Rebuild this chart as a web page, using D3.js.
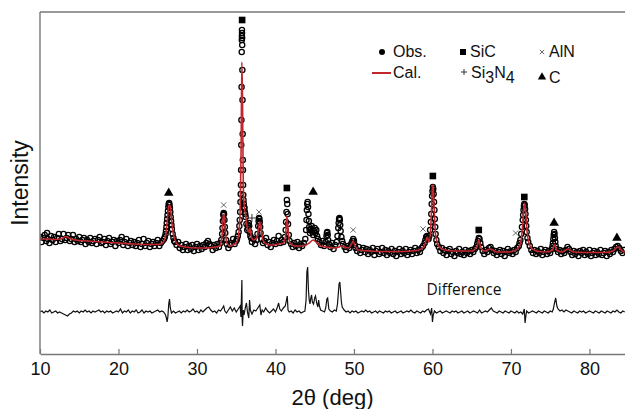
<!DOCTYPE html>
<html>
<head>
<meta charset="utf-8">
<script src="https://cdn.jsdelivr.net/npm/d3@7"></script>
<style>
  body { margin: 0; background: #fff; }
  svg { display: block; font-family: "Liberation Sans", Arial, sans-serif; }
</style>
</head>
<body>
<div id="chart"></div>
<script>
// observed pattern: [2theta (deg), intensity (a.u.)]
const observed = [
  [10.0,117],[10.2,112],[10.4,116],[10.6,119],[10.8,113],[10.9,121],[11.0,115],[11.2,111],[11.4,118],[11.6,114],[11.8,117],
  [12.0,112],[12.2,116],[12.4,120],[12.6,113],[12.8,115],[13.0,120],[13.2,114],[13.4,116],[13.6,119],[13.8,113],
  [14.0,115],[14.2,119],[14.4,112],[14.6,115],[14.8,113],[15.0,117],[15.2,112],[15.4,114],[15.6,116],[15.8,110],
  [16.0,114],[16.2,112],[16.4,116],[16.6,111],[16.8,113],[17.0,115],[17.2,110],[17.4,114],[17.6,117],[17.8,111],
  [18.0,112],[18.2,115],[18.4,109],[18.6,113],[18.8,116],[19.0,110],[19.2,112],[19.4,114],[19.6,108],[19.8,113],
  [20.0,111],[20.2,114],[20.4,117],[20.6,109],[20.8,112],[21.0,115],[21.2,108],[21.4,111],[21.6,113],[21.8,109],
  [22.0,112],[22.2,108],[22.4,111],[22.6,114],[22.8,107],[23.0,110],[23.2,115],[23.4,108],[23.6,111],[23.8,113],
  [24.0,107],[24.2,110],[24.4,112],[24.6,108],[24.8,111],[25.0,114],[25.2,108],[25.4,111],[25.6,113],[25.8,115],
  [25.9,117],[26.0,120],[26.05,123],[26.1,127],[26.15,131],[26.2,135],[26.25,139],[26.3,143],[26.35,147],[26.4,150],
  [26.45,151],[26.5,149],[26.55,146],[26.6,142],[26.65,137],[26.7,133],[26.75,129],[26.8,125],[26.9,120],[27.0,116],
  [27.1,113],[27.2,112],[27.4,109],[27.6,112],[27.8,106],[28.0,109],[28.2,104],[28.4,107],[28.6,110],[28.8,104],
  [29.0,108],[29.2,105],[29.4,109],[29.6,103],[29.8,107],[30.0,110],[30.2,104],[30.4,108],[30.6,105],[30.8,109],
  [31.0,107],[31.2,111],[31.4,113],[31.6,110],[31.8,108],[32.0,104],[32.2,109],[32.4,106],[32.6,110],[32.8,107],
  [33.0,111],[33.1,114],[33.2,120],[33.25,126],[33.3,133],[33.35,139],[33.4,141],[33.45,140],[33.5,134],[33.55,127],
  [33.6,121],[33.7,114],[33.8,110],[34.0,106],[34.2,109],[34.4,111],[34.6,115],[34.8,110],[35.0,113],[35.1,115],
  [35.2,118],[35.3,122],[35.4,128],[35.45,134],[35.5,142],[35.54,152],[35.57,160],[35.6,169],[35.62,184],[35.64,209],
  [35.66,234],[35.68,267],[35.7,302],[35.71,314],[35.72,318],[35.73,324],[35.74,321],[35.75,316],[35.76,309],[35.78,284],
  [35.8,254],[35.82,220],[35.84,194],[35.86,184],[35.88,169],[35.9,159],[35.93,154],[35.96,150],[36.0,147],[36.05,146],
  [36.1,142],[36.15,140],[36.2,137],[36.3,130],[36.4,124],[36.5,126],[36.55,129],[36.6,131],[36.65,128],[36.7,122],
  [36.8,118],[36.9,116],[37.0,112],[37.2,115],[37.4,110],[37.6,114],[37.7,120],[37.8,128],[37.85,133],[37.9,136],
  [37.95,135],[38.0,132],[38.05,127],[38.1,121],[38.2,115],[38.4,111],[38.6,113],[38.8,116],[39.0,109],[39.2,112],
  [39.4,107],[39.6,111],[39.8,114],[40.0,110],[40.2,113],[40.4,118],[40.6,111],[40.8,114],[41.0,112],[41.2,117],
  [41.3,124],[41.35,132],[41.4,142],[41.45,154],[41.5,150],[41.55,140],[41.6,130],[41.7,119],[41.8,113],[42.0,110],
  [42.2,107],[42.4,111],[42.6,108],[42.8,112],[43.0,106],[43.2,110],[43.4,108],[43.6,111],[43.8,115],[43.9,124],
  [43.95,134],[44.0,144],[44.05,150],[44.1,152],[44.15,147],[44.2,140],[44.25,133],[44.3,127],[44.35,124],[44.4,121],
  [44.5,125],[44.6,128],[44.7,122],[44.8,119],[44.9,123],[45.0,126],[45.1,121],[45.2,124],[45.3,118],[45.4,115],
  [45.6,112],[45.8,109],[46.0,113],[46.2,108],[46.4,112],[46.5,118],[46.55,121],[46.6,122],[46.65,119],[46.7,114],
  [46.8,110],[47.0,107],[47.2,111],[47.4,105],[47.6,109],[47.8,112],[47.9,118],[48.0,126],[48.05,131],[48.1,135],
  [48.15,136],[48.2,134],[48.25,129],[48.3,123],[48.4,117],[48.5,113],[48.6,110],[48.8,107],[49.0,104],[49.2,108],
  [49.4,106],[49.6,109],[49.7,111],[49.8,113],[49.9,115],[50.0,113],[50.1,109],[50.2,106],[50.4,103],[50.6,107],
  [50.8,101],[51.0,104],[51.2,106],[51.4,102],[51.6,105],[51.8,100],[52.0,104],[52.2,102],[52.4,106],[52.6,99],
  [52.8,103],[53.0,105],[53.2,100],[53.4,102],[53.6,106],[53.8,101],[54.0,104],[54.2,99],[54.4,103],[54.6,101],
  [54.8,105],[55.0,100],[55.2,103],[55.4,98],[55.6,102],[55.8,105],[56.0,100],[56.2,103],[56.4,101],[56.6,105],
  [56.8,99],[57.0,102],[57.2,104],[57.4,100],[57.6,103],[57.8,106],[58.0,101],[58.2,104],[58.4,102],[58.6,106],
  [58.8,108],[59.0,111],[59.1,114],[59.2,117],[59.3,118],[59.4,116],[59.5,115],[59.6,118],[59.7,124],[59.8,132],
  [59.85,140],[59.9,150],[59.95,158],[60.0,163],[60.05,167],[60.1,165],[60.15,160],[60.2,152],[60.25,144],[60.3,135],
  [60.35,127],[60.4,120],[60.5,114],[60.6,110],[60.8,107],[61.0,103],[61.2,106],[61.4,101],[61.6,104],[61.8,99],
  [62.0,103],[62.2,105],[62.4,100],[62.6,102],[62.8,98],[63.0,103],[63.2,101],[63.4,105],[63.6,100],[63.8,102],
  [64.0,99],[64.2,104],[64.4,101],[64.6,103],[64.8,100],[65.0,104],[65.2,102],[65.4,105],[65.6,107],[65.7,110],
  [65.8,113],[65.9,116],[66.0,115],[66.1,111],[66.2,107],[66.4,103],[66.6,100],[66.8,104],[67.0,102],[67.2,106],
  [67.4,107],[67.6,104],[67.8,101],[68.0,103],[68.2,99],[68.4,102],[68.6,104],[68.8,100],[69.0,103],[69.2,98],
  [69.4,102],[69.6,105],[69.8,101],[70.0,103],[70.2,100],[70.4,104],[70.6,102],[70.8,106],[71.0,108],[71.1,111],
  [71.2,114],[71.3,120],[71.4,127],[71.5,134],[71.55,139],[71.6,144],[71.65,148],[71.7,150],[71.75,149],[71.8,145],
  [71.85,140],[71.9,134],[71.95,128],[72.0,122],[72.1,116],[72.2,112],[72.4,108],[72.6,104],[72.8,101],[73.0,104],
  [73.2,100],[73.4,103],[73.6,101],[73.8,105],[74.0,99],[74.2,102],[74.4,104],[74.6,100],[74.8,103],[75.0,101],
  [75.2,105],[75.3,108],[75.35,111],[75.4,115],[75.45,119],[75.5,122],[75.55,120],[75.6,116],[75.65,112],[75.7,108],
  [75.8,105],[76.0,102],[76.2,104],[76.4,100],[76.6,103],[76.8,101],[77.0,104],[77.2,107],[77.4,105],[77.6,102],
  [77.8,99],[78.0,103],[78.2,100],[78.4,102],[78.6,98],[78.8,103],[79.0,101],[79.2,104],[79.4,99],[79.6,102],
  [79.8,100],[80.0,104],[80.2,98],[80.4,101],[80.6,103],[80.8,99],[81.0,102],[81.2,100],[81.4,104],[81.6,99],
  [81.8,101],[82.0,103],[82.2,98],[82.4,102],[82.6,100],[82.8,104],[83.0,102],[83.2,105],[83.4,107],[83.6,108],
  [83.8,106],[84.0,103],[84.2,101],[84.4,104]
];

// calculated (refined) profile
const calculated = [
  [10,115],[11,115],[12,114.5],[12.8,115.5],[13.3,117.5],[13.8,115.5],[14.5,114],[16,113],[18,112],[20,111],
  [22,110],[24,109.5],[25,109.5],[25.6,111],[26.0,118],[26.2,132],[26.4,148],[26.55,149],[26.7,140],[26.9,124],
  [27.2,114],[27.6,109],[28.5,107],[30,106],[31,106],[32,106.5],[32.9,108],[33.2,119],[33.35,138],[33.45,140],
  [33.6,124],[33.8,111],[34.2,108],[34.6,109],[35.0,111],[35.3,119],[35.5,144],[35.62,204],[35.72,292],[35.8,254],
  [35.9,169],[36.05,146],[36.2,139],[36.45,124],[36.6,122],[36.75,126],[36.9,118],[37.2,114],[37.6,116],[37.85,126],
  [38.0,132],[38.15,126],[38.4,114],[38.8,110],[39.5,109],[40.5,110],[41.0,111],[41.3,119],[41.45,138],[41.6,124],
  [41.85,111],[42.5,108],[43.3,108],[43.9,109],[44.3,111],[44.8,114],[45.3,111],[45.8,108],[46.5,107],[47.5,106],
  [48.1,107],[48.3,108],[49.3,106],[49.7,110],[49.9,113],[50.1,109],[50.6,104],[52,103],[54,102.5],[56,102.5],
  [58,103.5],[58.9,107],[59.2,114],[59.35,117],[59.55,112],[59.8,129],[60.0,166],[60.08,169],[60.2,149],[60.4,119],
  [60.8,108],[61.5,104],[63,103],[65,103],[65.7,108],[65.9,114],[66.1,108],[66.6,103],[67.4,105],[68.2,102],
  [69.5,102],[70.3,103],[70.8,105],[71.2,110],[71.5,129],[71.7,151],[71.85,144],[72.1,119],[72.5,107],[73.2,103],
  [74.5,102],[75.3,104],[75.55,110],[75.8,104],[76.5,102],[77.3,105],[78,102],[80,101.5],[82,101.5],[83,103],
  [83.6,107],[84.2,103],[84.53,102]
];

// observed minus calculated
const difference = [
  [10.0,0],[10.25,1],[10.5,-1],[10.75,1],[11.0,0],[11.25,2],[11.5,-1],[11.75,0],[12.0,1],[12.25,-1],[12.5,0],[12.75,-1],
  [13.0,-2],[13.25,-3],[13.5,-4],[13.75,-2],[14.0,-1],[14.25,1],[14.5,0],[14.75,1],[15.0,-1],[15.25,1],[15.5,0],[15.75,2],
  [16.0,0],[16.25,1],[16.5,-1],[16.75,1],[17.0,0],[17.25,1],[17.5,2],[17.75,0],[18.0,1],[18.25,-1],[18.5,1],[18.75,0],
  [19.0,1],[19.25,-1],[19.5,0],[19.75,1],[20.0,0],[20.25,3],[20.5,-1],[20.75,1],[21.0,0],[21.25,2],[21.5,-1],[21.75,1],
  [22.0,0],[22.25,2],[22.5,-1],[22.75,0],[23.0,2],[23.25,-1],[23.5,1],[23.75,0],[24.0,1],[24.25,-1],[24.5,0],[24.75,1],
  [25.0,2],[25.25,0],[25.5,1],[25.75,0],[26.0,-3],[26.1,-6],[26.2,-10],[26.3,-4],[26.4,8],[26.5,13],[26.6,4],[26.75,-1],
  [27.0,1],[27.25,-1],[27.5,0],[27.75,1],[28.0,-1],[28.25,1],[28.5,0],[28.75,2],[29.0,0],[29.25,1],[29.5,3],[29.75,0],
  [30.0,1],[30.25,-1],[30.5,2],[30.75,0],[31.0,2],[31.25,4],[31.5,5],[31.75,2],[32.0,0],[32.25,1],[32.5,-1],[32.75,2],
  [33.0,1],[33.25,4],[33.4,6],[33.55,1],[33.75,-1],[34.0,2],[34.25,5],[34.5,1],[34.75,4],[35.0,0],[35.25,3],[35.5,6],
  [35.6,-5],[35.68,20],[35.72,32],[35.76,-8],[35.8,-14],[35.9,2],[36.0,-3],[36.15,4],[36.3,9],[36.45,-1],[36.6,-6],[36.7,12],
  [36.8,2],[37.0,-2],[37.25,2],[37.5,1],[37.75,4],[38.0,7],[38.15,-3],[38.3,2],[38.5,0],[38.75,4],[39.0,1],[39.25,-1],
  [39.5,1],[39.75,3],[40.0,0],[40.25,5],[40.4,9],[40.55,3],[40.75,1],[41.0,4],[41.25,6],[41.4,12],[41.5,16],[41.6,2],
  [41.75,0],[42.0,1],[42.25,-1],[42.5,2],[42.75,0],[43.0,1],[43.25,-1],[43.5,0],[43.75,1],[43.9,12],[44.0,40],[44.1,45],
  [44.2,22],[44.3,12],[44.4,8],[44.5,14],[44.6,17],[44.7,10],[44.85,8],[45.0,14],[45.1,16],[45.25,9],[45.4,5],[45.5,12],
  [45.6,6],[45.75,2],[46.0,1],[46.25,0],[46.4,4],[46.55,13],[46.65,14],[46.8,3],[47.0,1],[47.25,0],[47.5,2],[47.75,1],
  [47.9,8],[48.0,18],[48.1,28],[48.2,30],[48.3,20],[48.4,10],[48.5,5],[48.75,2],[49.0,0],[49.25,1],[49.5,-1],[49.75,1],
  [50.0,0],[50.25,1],[50.5,-1],[50.75,0],[51.0,1],[51.25,0],[51.5,2],[51.75,0],[52.0,1],[52.25,-1],[52.5,0],[52.75,1],
  [53.0,-1],[53.25,1],[53.5,0],[53.75,-1],[54.0,1],[54.25,0],[54.5,1],[54.75,-1],[55.0,0],[55.25,1],[55.5,-1],[55.75,0],
  [56.0,1],[56.25,-1],[56.5,0],[56.75,1],[57.0,0],[57.25,2],[57.5,0],[57.75,-1],[58.0,1],[58.25,0],[58.5,-1],[58.75,1],
  [59.0,0],[59.25,2],[59.5,3],[59.75,-2],[59.9,4],[60.0,-10],[60.1,-3],[60.25,1],[60.5,-1],[60.75,0],[61.0,1],[61.25,-1],
  [61.5,0],[61.75,1],[62.0,0],[62.25,-1],[62.5,1],[62.75,0],[63.0,1],[63.25,-1],[63.5,0],[63.75,1],[64.0,-1],[64.25,0],
  [64.5,1],[64.75,-1],[65.0,0],[65.25,1],[65.5,0],[65.75,-1],[66.0,2],[66.25,-1],[66.5,0],[66.75,1],[67.0,0],[67.25,2],
  [67.5,4],[67.75,1],[68.0,0],[68.25,-1],[68.5,1],[68.75,0],[69.0,-1],[69.25,1],[69.5,0],[69.75,-1],[70.0,1],[70.25,0],
  [70.5,-1],[70.75,1],[71.0,-1],[71.25,0],[71.5,-2],[71.7,3],[71.8,-11],[71.9,-4],[72.0,1],[72.25,-1],[72.5,0],[72.75,1],
  [73.0,0],[73.25,-1],[73.5,1],[73.75,0],[74.0,-1],[74.25,1],[74.5,0],[74.75,-1],[75.0,1],[75.25,0],[75.4,3],[75.55,9],
  [75.7,14],[75.85,6],[76.0,3],[76.25,1],[76.5,2],[76.75,0],[77.0,2],[77.25,1],[77.5,0],[77.75,-1],[78.0,1],[78.25,0],
  [78.5,-1],[78.75,1],[79.0,0],[79.25,1],[79.5,-1],[79.75,0],[80.0,1],[80.25,0],[80.5,-1],[80.75,1],[81.0,0],[81.25,-1],
  [81.5,1],[81.75,0],[82.0,-1],[82.25,1],[82.5,0],[82.75,-1],[83.0,1],[83.25,0],[83.5,2],[83.75,0],[84.0,-1],[84.25,1],[84.5,0]
];

// phase reflections: [2theta, label height]
const sicPeaks = [[35.75,334],[41.45,166],[60.05,178],[65.9,124],[71.7,157]];
const si3n4Peaks = [[37.0,136]];
const alnPeaks = [[33.4,149],[37.9,142],[49.9,124],[58.8,125],[70.6,121]];
const carbonPeaks = [[26.4,161],[44.8,162],[75.5,131],[83.5,116]];

const xTicks = [10, 20, 30, 40, 50, 60, 70, 80];

const width = 625, height = 409;
const plot = { left: 40, right: 625, top: 12, bottom: 354 };
const diffOffset = 42;

const svg = d3.select('#chart').append('svg')
    .attr('width', width)
    .attr('height', height);

const x = d3.scaleLinear().domain([10, 84.53]).range([plot.left, plot.right]);
const y = d3.scaleLinear().domain([0, 342]).range([plot.bottom, plot.top]);

svg.append('clipPath').attr('id', 'clip')
  .append('rect')
    .attr('x', plot.left).attr('y', plot.top)
    .attr('width', plot.right - plot.left).attr('height', plot.bottom - plot.top);

const g = svg.append('g').attr('clip-path', 'url(#clip)');

// observed points, open circles
g.append('g').selectAll('circle')
  .data(observed)
  .join('circle')
    .attr('cx', d => x(d[0]))
    .attr('cy', d => y(d[1]))
    .attr('r', 2.6)
    .attr('fill', 'none')
    .attr('stroke', '#000')
    .attr('stroke-width', 1.3);

// calculated line
const calLine = d3.line()
    .x(d => x(d[0]))
    .y(d => y(d[1]))
    .curve(d3.curveMonotoneX);

g.append('path')
    .datum(calculated)
    .attr('d', calLine)
    .attr('fill', 'none')
    .attr('stroke', '#c1272d')
    .attr('stroke-width', 1.6);

// difference curve
const diffLine = d3.line()
    .x(d => x(d[0]))
    .y(d => y(d[1] + diffOffset));

g.append('path')
    .datum(difference)
    .attr('d', diffLine)
    .attr('fill', 'none')
    .attr('stroke', '#111')
    .attr('stroke-width', 1.2);

g.append('text')
    .attr('x', 464)
    .attr('y', 295)
    .attr('text-anchor', 'middle')
    .attr('font-family', '"Open Sans", "Noto Sans", sans-serif')
    .attr('font-size', '15.5px')
    .attr('fill', '#111')
    .text('Difference');

// phase markers
const squarePath = d3.symbol().type(d3.symbolSquare).size(44);
const trianglePath = d3.symbol().type(d3.symbolTriangle).size(40);
const crossPath = s => `M${-s},${-s}L${s},${s}M${-s},${s}L${s},${-s}`;
const plusPath = s => `M${-s},0L${s},0M0,${-s}L0,${s}`;

g.append('g').selectAll('path')
  .data(sicPeaks)
  .join('path')
    .attr('transform', d => `translate(${x(d[0])},${y(d[1])})`)
    .attr('d', squarePath)
    .attr('fill', '#000');

g.append('g').selectAll('path')
  .data(carbonPeaks)
  .join('path')
    .attr('transform', d => `translate(${x(d[0])},${y(d[1])})`)
    .attr('d', trianglePath)
    .attr('fill', '#000');

g.append('g').selectAll('path')
  .data(alnPeaks)
  .join('path')
    .attr('transform', d => `translate(${x(d[0])},${y(d[1])})`)
    .attr('d', crossPath(2.6))
    .attr('stroke', '#555')
    .attr('stroke-width', 0.9);

g.append('g').selectAll('path')
  .data(si3n4Peaks)
  .join('path')
    .attr('transform', d => `translate(${x(d[0])},${y(d[1])})`)
    .attr('d', plusPath(4))
    .attr('stroke', '#333')
    .attr('stroke-width', 1);

// legend
const legend = svg.append('g').attr('font-size', '16px').attr('fill', '#111');

legend.append('circle').attr('cx', 382).attr('cy', 52).attr('r', 3).attr('fill', '#000');
legend.append('text').attr('x', 393).attr('y', 57).text('Obs.');

legend.append('line')
    .attr('x1', 372).attr('x2', 391).attr('y1', 73).attr('y2', 73)
    .attr('stroke', '#c1272d').attr('stroke-width', 2);
legend.append('text').attr('x', 393).attr('y', 78).text('Cal.');

legend.append('path').attr('transform', 'translate(463,52)').attr('d', d3.symbol().type(d3.symbolSquare).size(36)).attr('fill', '#000');
legend.append('text').attr('x', 470).attr('y', 57).text('SiC');

legend.append('path').attr('transform', 'translate(464,72)').attr('d', plusPath(3)).attr('stroke', '#333').attr('stroke-width', 1);
const siText = legend.append('text').attr('x', 471).attr('y', 78);
siText.append('tspan').text('Si');
siText.append('tspan').attr('dy', 5).text('3');
siText.append('tspan').attr('dy', -5).text('N');
siText.append('tspan').attr('dy', 5).text('4');

legend.append('path').attr('transform', 'translate(542,52)').attr('d', crossPath(2.2)).attr('stroke', '#555').attr('stroke-width', 0.9);
legend.append('text').attr('x', 549).attr('y', 57).text('AlN');

legend.append('path').attr('transform', 'translate(542,77)').attr('d', d3.symbol().type(d3.symbolTriangle).size(30)).attr('fill', '#000');
legend.append('text').attr('x', 549).attr('y', 83).text('C');

// axes frame
const axisColor = '#777';
svg.append('line')
    .attr('x1', plot.left).attr('x2', plot.left)
    .attr('y1', plot.top).attr('y2', plot.bottom)
    .attr('stroke', axisColor).attr('stroke-width', 1.4);
svg.append('line')
    .attr('x1', plot.left).attr('x2', plot.right)
    .attr('y1', plot.top).attr('y2', plot.top)
    .attr('stroke', axisColor).attr('stroke-width', 1.4);

const xAxis = svg.append('g')
    .attr('transform', `translate(0,${plot.bottom})`)
    .call(d3.axisBottom(x).tickValues(xTicks).tickSizeInner(-5).tickSizeOuter(0).tickPadding(10));

xAxis.select('.domain').attr('stroke', axisColor).attr('stroke-width', 1.4);
xAxis.selectAll('.tick line').attr('stroke', axisColor).attr('stroke-width', 1.2);
xAxis.selectAll('.tick text')
    .attr('font-family', '"Liberation Sans", Arial, sans-serif')
    .attr('font-size', '18px')
    .attr('fill', '#111')
    .attr('dy', '0.71em')
    .attr('y', 8);

svg.append('text')
    .attr('x', (plot.left + plot.right) / 2)
    .attr('y', 405)
    .attr('text-anchor', 'middle')
    .attr('font-size', '22px')
    .attr('fill', '#111')
    .text('2θ (deg)');

svg.append('text')
    .attr('transform', `translate(28,${(plot.top + plot.bottom) / 2}) rotate(-90)`)
    .attr('text-anchor', 'middle')
    .attr('font-size', '23px')
    .attr('fill', '#111')
    .text('Intensity');
</script>
</body>
</html>
